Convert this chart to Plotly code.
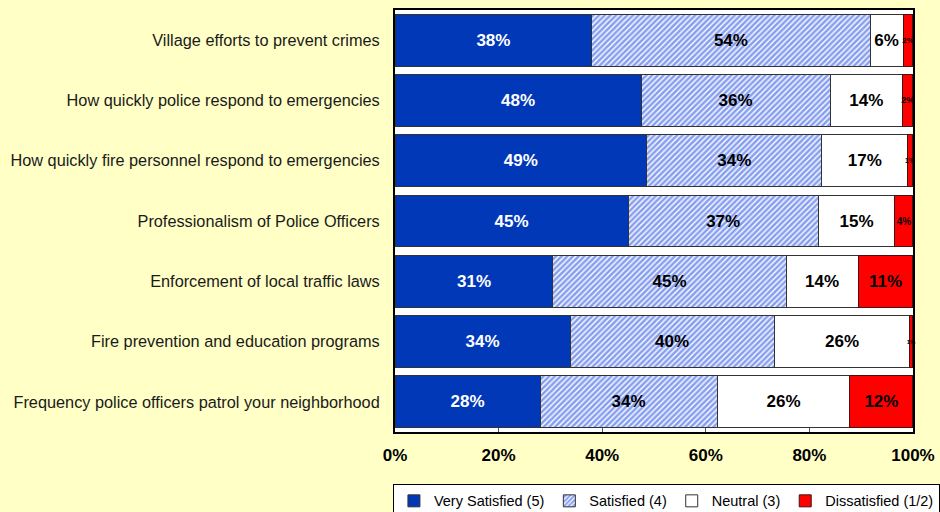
import plotly.graph_objects as go

categories = [
    'Village efforts to prevent crimes',
    'How quickly police respond to emergencies',
    'How quickly fire personnel respond to emergencies',
    'Professionalism of Police Officers',
    'Enforcement of local traffic laws',
    'Fire prevention and education programs',
    'Frequency police officers patrol your neighborhood',
]

very_satisfied = [38.0, 47.5, 48.6, 45.0, 30.5, 33.8, 28.0]
satisfied = [53.7, 36.5, 33.8, 36.7, 45.0, 39.4, 34.2]
neutral = [6.4, 14.0, 16.6, 14.8, 13.9, 26.2, 25.6]
dissatisfied = [1.9, 2.0, 1.0, 3.5, 10.6, 0.6, 12.2]

very_satisfied_txt = ['38%', '48%', '49%', '45%', '31%', '34%', '28%']
satisfied_txt = ['54%', '36%', '34%', '37%', '45%', '40%', '34%']
neutral_txt = ['6%', '14%', '17%', '15%', '14%', '26%', '26%']
dissatisfied_txt = ['2%', '2%', '1%', '4%', '11%', '1%', '12%']
dissatisfied_size = [8, 9, 7, 10, 17, 6, 17]

tick_vals = [0, 20, 40, 60, 80, 100]
tick_txt = ['0%', '20%', '40%', '60%', '80%', '100%']

FONT = 'Liberation Sans, Arial, sans-serif'
outline = dict(color='#333333', width=1)
fig = go.Figure()

fig.add_trace(go.Bar(
    y=categories, x=very_satisfied, orientation='h', name='Very Satisfied (5)',
    text=very_satisfied_txt, textfont=dict(color='white', size=17),
    marker=dict(color='#0038B8', line=outline),
))
fig.add_trace(go.Bar(
    y=categories, x=satisfied, orientation='h', name='Satisfied (4)',
    text=satisfied_txt, textfont=dict(color='black', size=17),
    marker=dict(color='white', line=outline,
                pattern=dict(shape='/', fgcolor='#0F3FE0', bgcolor='white',
                             size=4, solidity=0.65)),
))
fig.add_trace(go.Bar(
    y=categories, x=neutral, orientation='h', name='Neutral (3)',
    text=neutral_txt, textfont=dict(color='black', size=17),
    marker=dict(color='white', line=outline),
))
fig.add_trace(go.Bar(
    y=categories, x=dissatisfied, orientation='h', name='Dissatisfied (1/2)',
    text=dissatisfied_txt, textfont=dict(color='black', size=dissatisfied_size),
    marker=dict(color='#FF0000', line=dict(color='#4a1010', width=1)),
))

fig.update_traces(textposition='inside', insidetextanchor='middle', textangle=0,
                  constraintext='none', cliponaxis=False,
                  textfont_family=FONT, textfont_weight='bold')

fig.update_layout(
    barmode='stack',
    bargap=0.14,
    width=940, height=512,
    paper_bgcolor='#FFFFC6',
    plot_bgcolor='white',
    margin=dict(l=395, r=27, t=10, b=80, autoexpand=False),
    font=dict(family=FONT, color='black'),
    xaxis=dict(
        range=[0, 100.001], tickvals=tick_vals, ticktext=tick_txt,
        tickfont=dict(size=17, weight='bold'), showgrid=False, zeroline=False,
        showline=True, linecolor='black', linewidth=2, mirror=True,
        ticks='inside', ticklen=4, tickcolor='#555555', ticklabelstandoff=7,
    ),
    yaxis=dict(
        autorange='reversed', showline=True, linecolor='black', linewidth=2,
        mirror=True, tickfont=dict(size=16.3, color='#1a1a1a'), ticks='',
        ticklabelstandoff=10,
    ),
    legend=dict(
        orientation='h', x=-0.004, xanchor='left', y=-0.123, yanchor='top',
        bgcolor='white', bordercolor='black', borderwidth=1,
        font=dict(size=14.5), traceorder='normal', itemwidth=30,
    ),
)

fig.write_html('out.html', config={'displayModeBar': False},
               post_script="document.body.style.margin='0';")
